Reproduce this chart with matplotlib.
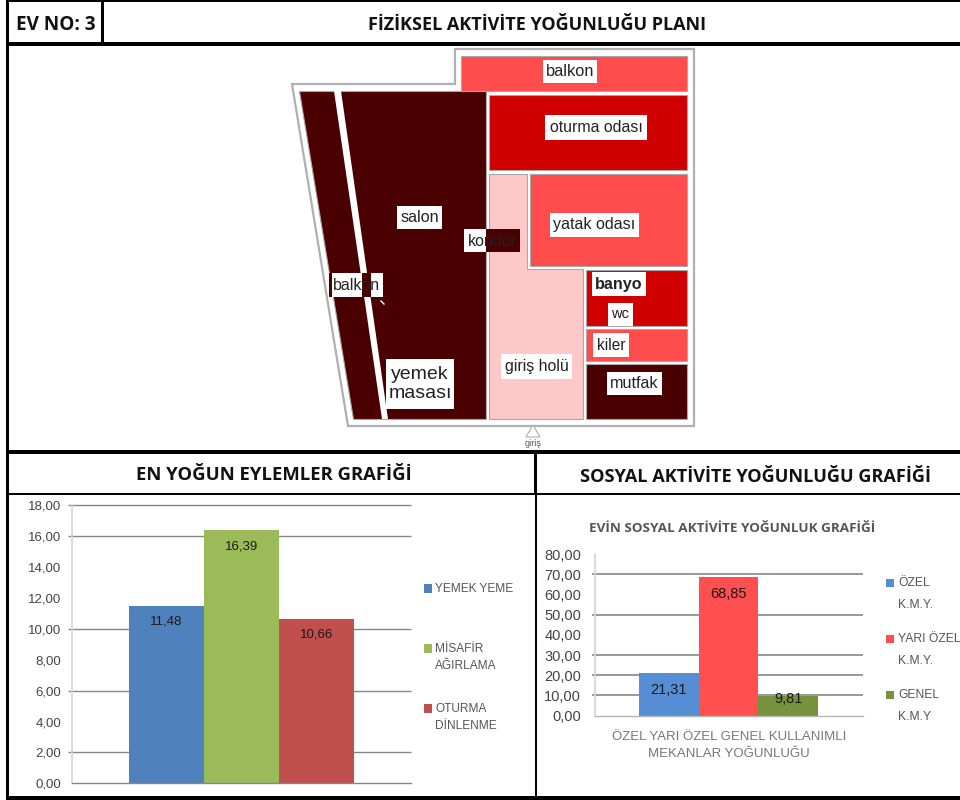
import matplotlib
matplotlib.use("Agg")
from matplotlib import pyplot as plt
from matplotlib.patches import Polygon, Rectangle

W, H = 960, 800

# chart values
activity_names = ["YEMEK YEME", "MİSAFİR\nAĞIRLAMA", "OTURMA\nDİNLENME"]
activity_values = [11.48, 16.39, 10.66]
activity_colors = ["#4f81bd", "#9bbb59", "#c0504d"]
activity_ticks = [0, 2, 4, 6, 8, 10, 12, 14, 16, 18]
activity_grid = [2, 6, 10, 16, 18]

social_names = ["ÖZEL\nK.M.Y.", "YARI ÖZEL\nK.M.Y.", "GENEL\nK.M.Y"]
social_values = [21.31, 68.85, 9.81]
social_colors = ["#558ed5", "#ff4f4f", "#76923c"]
social_ticks = [0, 10, 20, 30, 40, 50, 60, 70, 80]
social_grid = [10, 20, 30, 50, 70]

DARK = "#4a0000"
RED = "#d00000"
MID = "#ff4d4d"
PINK = "#ffc8c8"

# floor plan, in picture pixels
outline = [(292, 84), (455, 84), (455, 49), (694, 49), (694, 426), (348, 426)]
rooms = [
    ([(299, 91), (486, 91), (486, 419), (353, 419)], DARK),
    ([(461, 56), (687, 56), (687, 91), (461, 91)], MID),
    ([(489, 95), (687, 95), (687, 170), (489, 170)], RED),
    ([(530, 174), (687, 174), (687, 266), (530, 266)], MID),
    ([(489, 174), (527, 174), (527, 269), (583, 269), (583, 419), (489, 419)], PINK),
    ([(586, 270), (687, 270), (687, 326), (586, 326)], RED),
    ([(586, 329), (687, 329), (687, 361), (586, 361)], MID),
    ([(586, 364), (687, 364), (687, 419), (586, 419)], DARK),
]
room_labels = [
    ("balkon", (543, 60, 597, 83), 11.8, "normal"),
    ("oturma odası", (545, 115, 647, 140), 11.4, "normal"),
    ("yatak odası", (550, 213, 639, 237), 11.6, "normal"),
    ("salon", (397, 206, 442, 229), 11.6, "normal"),
    ("banyo", (592, 272, 646, 296), 11.6, "bold"),
    ("wc", (608, 303, 633, 326), 10.5, "normal"),
    ("kiler", (593, 333, 629, 357), 11.2, "normal"),
    ("mutfak", (607, 372, 662, 395), 11.6, "normal"),
    ("giriş holü", (501, 354, 572, 379), 11.4, "normal"),
    ("yemek\nmasası", (386, 359, 454, 409), 14, "normal"),
]

fig = plt.figure(figsize=(W / 100, H / 100), dpi=100, facecolor="white")

bg = fig.add_axes([0, 0, 1, 1])
bg.set_xlim(0, W)
bg.set_ylim(H, 0)
bg.axis("off")


def frame(x0, y0, x1, y1):
    bg.add_patch(Rectangle((x0, y0), x1 - x0, y1 - y0, color="black", lw=0, zorder=10))


frame(6, 0, W, 1.5)
frame(6, 0, 8.5, 796)
frame(100.5, 0, 103.5, 43)
frame(6, 42, W, 45.5)
frame(6, 450, W, 454)
frame(534, 450, 537, 495)
frame(535, 495, 537, 796)
frame(6, 492.5, W, 495)
frame(6, 796, W, H)

HEAD = dict(family="Open Sans", weight="bold", ha="center", va="center", color="#111111")
bg.text(55.5, 25, "EV NO: 3", fontsize=13.6, **HEAD)
bg.text(537.5, 25, "FİZİKSEL AKTİVİTE YOĞUNLUĞU PLANI", fontsize=13, **HEAD)
bg.text(273.5, 474.5, "EN YOĞUN EYLEMLER GRAFİĞİ", fontsize=13.3, **HEAD)
bg.text(755, 476.5, "SOSYAL AKTİVİTE YOĞUNLUĞU GRAFİĞİ", fontsize=13.1, **HEAD)

# plan
bg.add_patch(Polygon(outline, closed=True, fc="white", ec="#b0b0b0", lw=1.6))
for pts, col in rooms:
    bg.add_patch(Polygon(pts, closed=True, fc=col, ec="#a8a8a8", lw=0.8))
bg.add_patch(Polygon([(334, 91), (341, 91), (388, 419), (382, 419)], closed=True, fc="white", ec="none"))

for text, (x0, y0, x1, y1), size, weight in room_labels:
    bg.add_patch(Rectangle((x0, y0), x1 - x0, y1 - y0, fc="white", ec="none", zorder=3))
    bg.text((x0 + x1) / 2, (y0 + y1) / 2, text, family="Liberation Sans", fontsize=size,
            weight=weight, ha="center", va="center", color="#222222", zorder=4, linespacing=1.1)

# koridor and the small balkon label sit half on the dark part
bg.add_patch(Rectangle((464, 229), 22, 23, fc="white", ec="none", zorder=3))
bg.add_patch(Rectangle((486, 229), 34, 23, fc=DARK, ec="none", zorder=3))
bg.text(492, 241, "koridor", family="Liberation Sans", fontsize=11.4, ha="center", va="center",
        color="#222222", zorder=4)
bg.add_patch(Rectangle((329, 273), 54, 24, fc="white", ec="none", zorder=3))
bg.add_patch(Rectangle((329, 273), 3, 24, fc=DARK, ec="none", zorder=3))
bg.add_patch(Rectangle((362, 273), 9, 24, fc=DARK, ec="none", zorder=3))
bg.text(356, 285, "balkon", family="Liberation Sans", fontsize=11.4, ha="center", va="center",
        color="#222222", zorder=4)
bg.plot([381, 384], [301, 304], color="white", lw=1)

bg.add_patch(Polygon([(533, 425), (526, 437), (540, 437)], closed=True, fc="white", ec="#b0b0b0", lw=0.8))
bg.text(533, 444, "giriş", family="Liberation Sans", fontsize=6.5, ha="center", va="center", color="#555555")


def bar_axes(x0, x1, y_top, y_bottom):
    ax = fig.add_axes([x0 / W, 1 - y_bottom / H, (x1 - x0) / W, (y_bottom - y_top) / H])
    ax.patch.set_alpha(0)
    for side in ["top", "right"]:
        ax.spines[side].set_visible(False)
    ax.spines["left"].set_color("#d4d4d4")
    ax.spines["left"].set_linewidth(1.2)
    ax.spines["bottom"].set_color("#868686")
    ax.spines["bottom"].set_linewidth(1)
    ax.set_xticks([])
    return ax


def comma(v):
    return f"{v:.2f}".replace(".", ",")


# left chart
ax1 = bar_axes(72.3, 411, 505.3, 783.3)
ax1.hlines(activity_grid, -0.012, 1, transform=ax1.get_yaxis_transform(), color="#868686", lw=1,
           zorder=1, clip_on=False)
ax1.bar(range(3), activity_values, width=1, color=activity_colors, zorder=2)
ax1.set_xlim(-1.253, 3.263)
ax1.set_ylim(0, 18)
ax1.set_yticks(activity_ticks, [comma(v) for v in activity_ticks])
ax1.tick_params(axis="y", length=0, pad=8, labelsize=9.5, labelcolor="#444444")
for i, v in enumerate(activity_values):
    ax1.annotate(comma(v), (i, v), xytext=(0, -11.5), textcoords="offset points", ha="center",
                 va="center", fontsize=9.5, color="#1a1a1a", family="Liberation Sans", zorder=3)
for label in ax1.get_yticklabels():
    label.set_family("Liberation Sans")

for name, col, y_first in zip(activity_names, activity_colors, [588, 648, 708]):
    bg.add_patch(Rectangle((423.5, y_first - 4), 8.5, 8.5, fc=col, ec="none"))
    bg.text(435, y_first - 5.5, name, family="Liberation Sans", fontsize=8.6, va="top", ha="left",
            color="#555555", linespacing=1.65)

# right chart
ax2 = bar_axes(595, 863, 554, 715.7)
ax2.hlines(social_grid, -0.012, 1, transform=ax2.get_yaxis_transform(), color="#868686", lw=1.2,
           zorder=1, clip_on=False)
ax2.bar(range(3), social_values, width=1, color=social_colors, zorder=2)
ax2.set_xlim(-1.24, 3.255)
ax2.set_ylim(0, 80)
ax2.set_yticks(social_ticks, [comma(v) for v in social_ticks])
ax2.tick_params(axis="y", length=0, pad=10, labelsize=10.5, labelcolor="#444444")
ax2.spines["bottom"].set_color("#b5b5b5")
for label in ax2.get_yticklabels():
    label.set_family("Liberation Sans")
for i, v in enumerate(social_values):
    drop = 2.2 if v < 10 else 12.5
    ax2.annotate(comma(v), (i, v), xytext=(0, -drop), textcoords="offset points", ha="center",
                 va="center", fontsize=10.5, color="#1a1a1a", family="Liberation Sans", zorder=3,
                 annotation_clip=False)

bg.text(732, 528, "EVİN SOSYAL AKTİVİTE YOĞUNLUK GRAFİĞİ", family="Open Sans", weight="bold",
        fontsize=9.7, ha="center", va="center", color="#555555")
bg.text(729, 745.5, "ÖZEL YARI ÖZEL GENEL KULLANIMLI\nMEKANLAR YOĞUNLUĞU", family="Liberation Sans",
        fontsize=9.5, ha="center", va="center", color="#777777", linespacing=1.55)

for name, col, y_first in zip(social_names, social_colors, [583, 639, 695]):
    bg.add_patch(Rectangle((886, y_first - 4), 8, 8, fc=col, ec="none"))
    bg.text(898, y_first - 5.5, name, family="Liberation Sans", fontsize=8.7, va="top", ha="left",
            color="#555555", linespacing=2.05)

fig.savefig("out.png", dpi=100)
